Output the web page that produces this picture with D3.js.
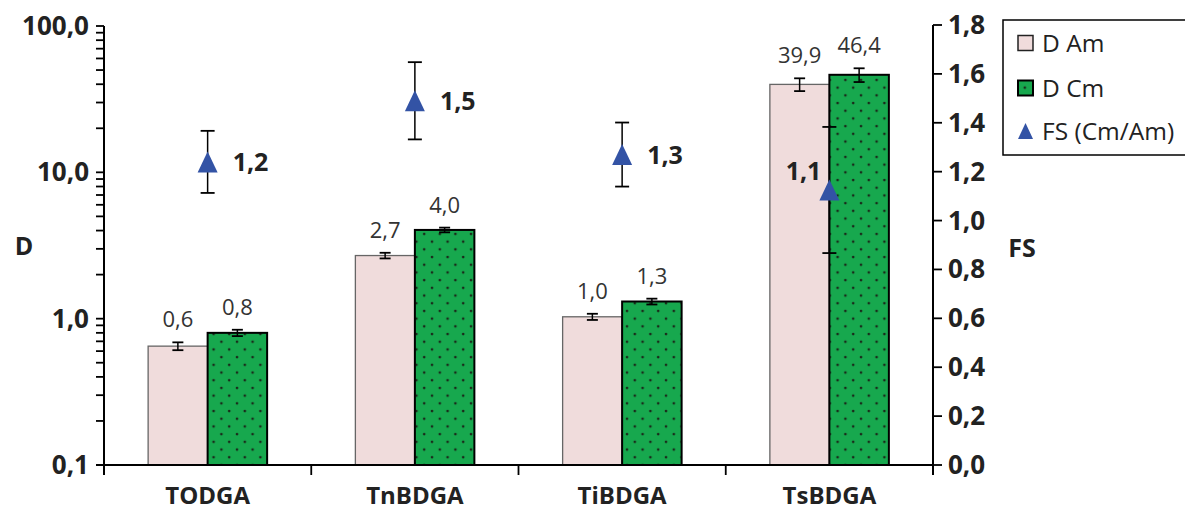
<!DOCTYPE html>
<html><head><meta charset="utf-8">
<script src="https://cdn.jsdelivr.net/npm/d3@7"></script>
<style>html,body{margin:0;padding:0;background:#fff;} svg{display:block;}</style>
</head><body>
<svg id="c" width="1185" height="512"></svg>
<script>
const categories = ["TODGA", "TnBDGA", "TiBDGA", "TsBDGA"];
const dAm = [0.649, 2.7, 1.03, 39.9];
const dAmErr = [0.04, 0.12, 0.05, 4.0];
const dCm = [0.80, 4.04, 1.31, 46.4];
const dCmErr = [0.04, 0.15, 0.06, 5.0];
const fs = [1.24, 1.49, 1.27, 1.125];
const fsErr = [0.127, 0.158, 0.131, 0.258];
const fsLabelSide = ["right", "right", "right", "left"];
const leftTicks = [0.1, 1, 10, 100];
const rightTicks = [0, 0.2, 0.4, 0.6, 0.8, 1.0, 1.2, 1.4, 1.6, 1.8];
const seriesNames = ["D Am", "D Cm", "FS (Cm/Am)"];

const fmt = v => v.toFixed(1).replace(".", ",");
const font = "'Open Sans', sans-serif";
const svg = d3.select("#c");

const defs = svg.append("defs");
const pat = defs.append("pattern").attr("id", "dots").attr("patternUnits", "userSpaceOnUse")
  .attr("width", 15.6).attr("height", 15.4);
pat.append("rect").attr("width", 15.6).attr("height", 15.4).attr("fill", "#17a84e");
pat.append("circle").attr("cx", 3).attr("cy", 3).attr("r", 1.35).attr("fill", "#1a2a1a");
pat.append("circle").attr("cx", 10.8).attr("cy", 10.7).attr("r", 1.35).attr("fill", "#1a2a1a");

const x0 = 104, x1 = 933, yTop = 26, yBot = 465;
const x = d3.scaleBand().domain(categories).range([x0, x1]).padding(0);
const yL = d3.scaleLog().domain([0.1, 100]).range([yBot, yTop]);
const yR = d3.scaleLinear().domain([0, 1.8]).range([yBot, 25]);
const bw = 59.5;

// bars
const g = svg.append("g");
function bars(vals, errs, off, fill, stroke, sw) {
  g.selectAll(null).data(vals).enter().append("rect")
    .attr("x", (d, i) => x(categories[i]) + x.bandwidth() / 2 + off)
    .attr("y", d => yL(d)).attr("width", bw).attr("height", d => yBot - yL(d))
    .attr("fill", fill).attr("stroke", stroke).attr("stroke-width", sw);
  vals.forEach((d, i) => {
    const cx = x(categories[i]) + x.bandwidth() / 2 + off + bw / 2;
    const t = yL(d + errs[i]), b = yL(d - errs[i]);
    g.append("line").attr("x1", cx).attr("x2", cx).attr("y1", t).attr("y2", b).attr("stroke", "#000").attr("stroke-width", 1.5);
    [t, b].forEach(yy => g.append("line").attr("x1", cx - 5.5).attr("x2", cx + 5.5).attr("y1", yy).attr("y2", yy).attr("stroke", "#000").attr("stroke-width", 1.8));
    g.append("text").attr("x", cx).attr("y", t - 15).attr("text-anchor", "middle")
      .attr("font-family", font).attr("font-size", 22).attr("fill", "#333").text(fmt(d));
  });
}
bars(dAm, dAmErr, -bw, "#f0dcdc", "#666", 1.3);
bars(dCm, dCmErr, 0, "url(#dots)", "#000", 2);

// axes
const ax = svg.append("g").attr("stroke", "#000");
ax.append("line").attr("x1", x0).attr("x2", x0).attr("y1", yTop).attr("y2", yBot + 10).attr("stroke-width", 2);
ax.append("line").attr("x1", x1).attr("x2", x1).attr("y1", 25).attr("y2", yBot + 10).attr("stroke-width", 2);
ax.append("line").attr("x1", x0 - 8).attr("x2", x1).attr("y1", yBot).attr("y2", yBot).attr("stroke-width", 2);
const minor = [];
for (let dec = 0.1; dec < 100; dec *= 10) for (let k = 1; k <= 9; k++) minor.push(+(dec * k).toPrecision(3));
minor.push(100);
minor.forEach(v => ax.append("line").attr("x1", x0 - 8).attr("x2", x0).attr("y1", yL(v)).attr("y2", yL(v)).attr("stroke-width", 1.8));
rightTicks.forEach(v => ax.append("line").attr("x1", x1).attr("x2", x1 + 9).attr("y1", yR(v)).attr("y2", yR(v)).attr("stroke-width", 1.8));
categories.forEach(c => ax.append("line").attr("x1", x(c)).attr("x2", x(c)).attr("y1", yBot).attr("y2", yBot + 10).attr("stroke-width", 1.8));
ax.append("line").attr("x1", x1).attr("x2", x1).attr("y1", yBot).attr("y2", yBot + 10).attr("stroke-width", 1.8);

const tg = svg.append("g").attr("font-family", font).attr("font-weight", "bold").attr("fill", "#222");
leftTicks.forEach(v => tg.append("text").attr("x", 89).attr("y", yL(v) + 9).attr("text-anchor", "end").attr("font-size", 26).text(v.toFixed(1).replace(".", ",")));
rightTicks.forEach(v => tg.append("text").attr("x", 948).attr("y", yR(v) + 9).attr("font-size", 26).text(v.toFixed(1).replace(".", ",")));
categories.forEach(c => tg.append("text").attr("x", x(c) + x.bandwidth() / 2).attr("y", 504).attr("text-anchor", "middle").attr("font-size", 24).text(c));
tg.append("text").attr("x", 24).attr("y", 255).attr("text-anchor", "middle").attr("font-size", 25).text("D");
tg.append("text").attr("x", 1022).attr("y", 257).attr("text-anchor", "middle").attr("font-size", 25).text("FS");

// FS points
const pg = svg.append("g");
fs.forEach((v, i) => {
  const cx = x(categories[i]) + x.bandwidth() / 2;
  const cy = yR(v), t = yR(v + fsErr[i]), b = yR(v - fsErr[i]);
  pg.append("line").attr("x1", cx).attr("x2", cx).attr("y1", t).attr("y2", b).attr("stroke", "#000").attr("stroke-width", 1.5);
  [t, b].forEach(yy => pg.append("line").attr("x1", cx - 7).attr("x2", cx + 7).attr("y1", yy).attr("y2", yy).attr("stroke", "#000").attr("stroke-width", 1.8));
  pg.append("path").attr("d", `M${cx},${cy - 10.5} L${cx + 10},${cy + 10.5} L${cx - 10},${cy + 10.5} Z`).attr("fill", "#3353a5");
  const side = fsLabelSide[i];
  pg.append("text").attr("x", side === "right" ? cx + 25 : cx - 8).attr("y", side === "right" ? cy + 9 : cy - 10)
    .attr("text-anchor", side === "right" ? "start" : "end")
    .attr("font-family", font).attr("font-weight", "bold").attr("font-size", 25).attr("fill", "#222").text(fmt(v));
});

// legend
const lg = svg.append("g");
lg.append("rect").attr("x", 1003).attr("y", 20).attr("width", 200).attr("height", 135).attr("fill", "#fff").attr("stroke", "#000").attr("stroke-width", 1.5);
const ly = [43, 88, 131];
lg.append("rect").attr("x", 1018).attr("y", ly[0] - 7.5).attr("width", 15).attr("height", 15).attr("fill", "#f0dcdc").attr("stroke", "#222").attr("stroke-width", 1.5);
lg.append("rect").attr("x", 1018).attr("y", ly[1] - 7.5).attr("width", 15).attr("height", 15).attr("fill", "url(#dots)").attr("stroke", "#000").attr("stroke-width", 2);
lg.append("path").attr("d", `M1025.5,${ly[2] - 8} L1033,${ly[2] + 8} L1018,${ly[2] + 8} Z`).attr("fill", "#3353a5");
seriesNames.forEach((n, i) => lg.append("text").attr("x", 1042).attr("y", ly[i] + 8.5).attr("font-family", font).attr("font-size", 24.5).attr("fill", "#222").text(n));
</script>
</body></html>
